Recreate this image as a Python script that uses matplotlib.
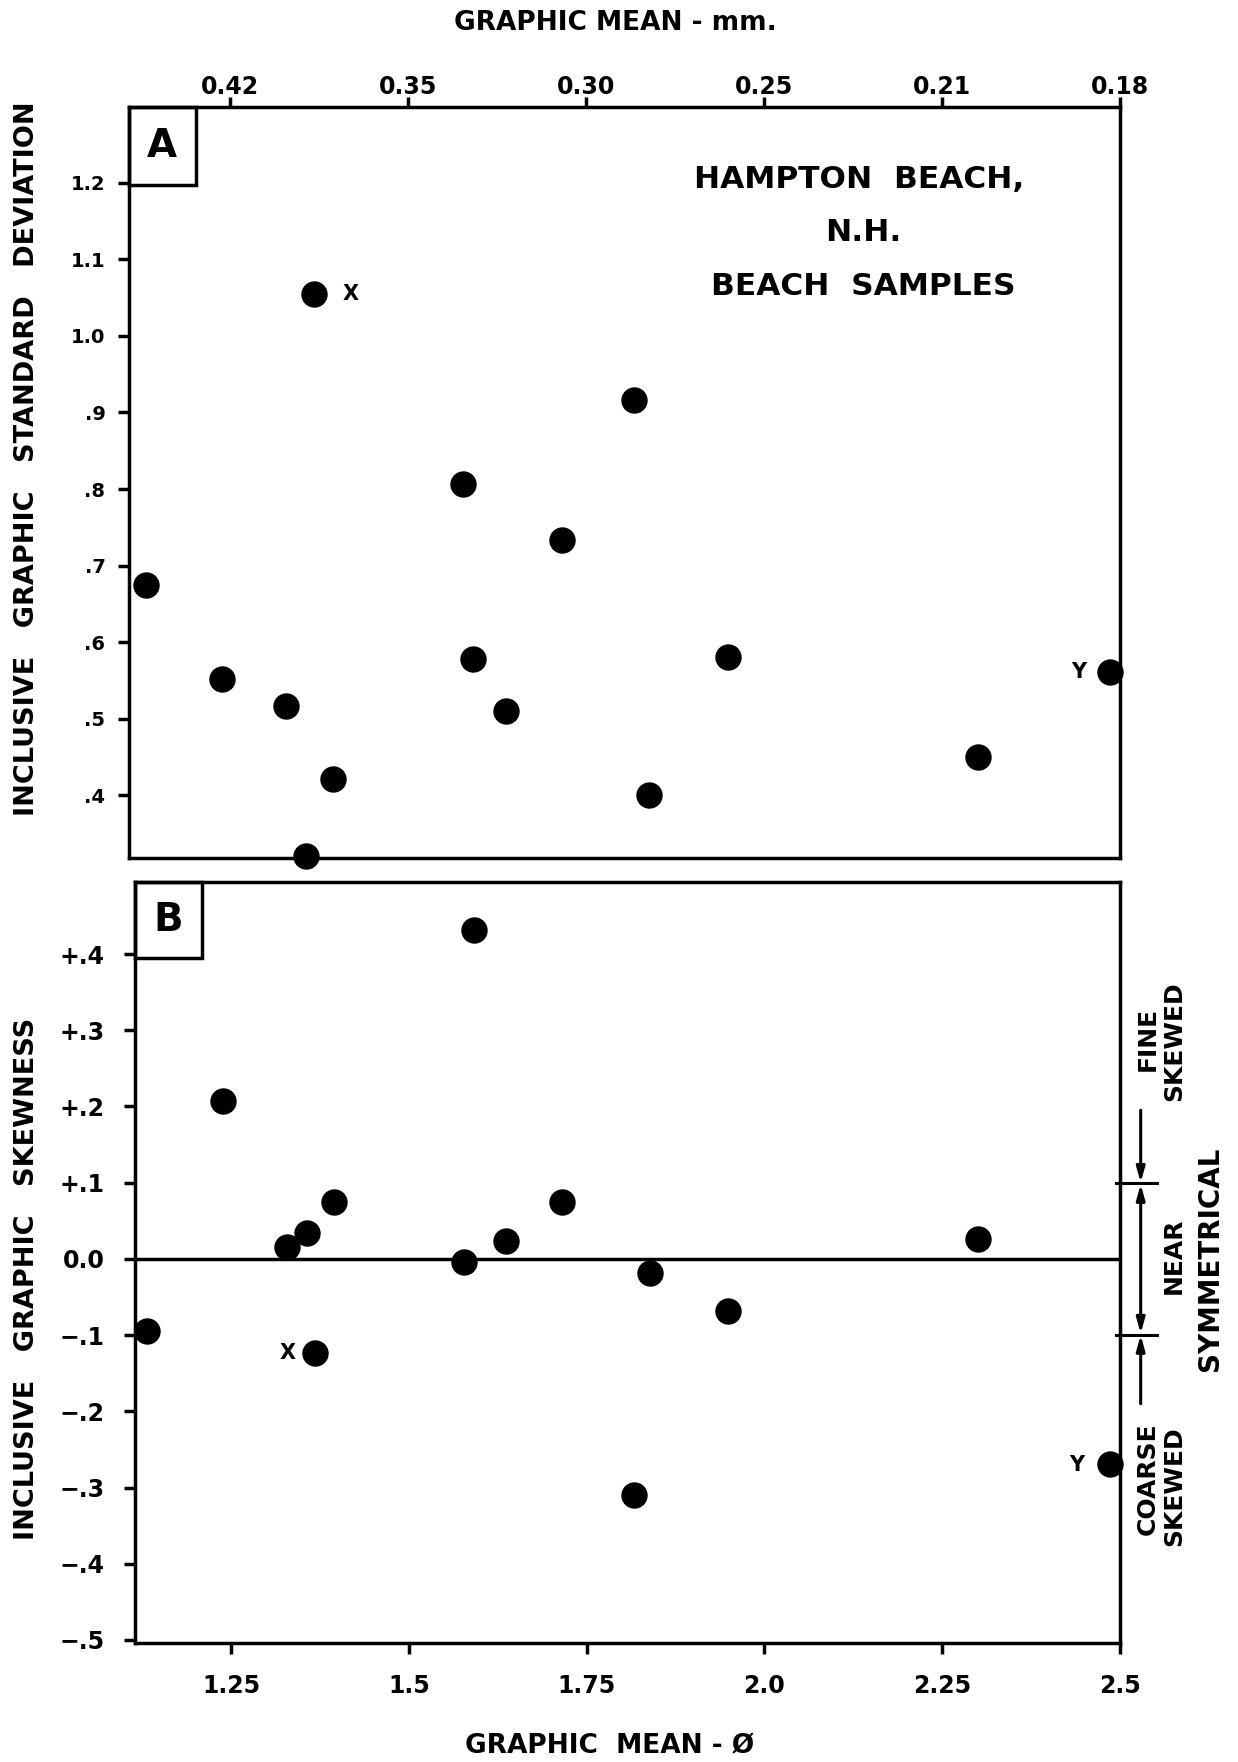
import matplotlib
matplotlib.use("Agg")
import matplotlib.pyplot as plt
from matplotlib.patches import Rectangle

plt.rcParams['font.family'] = ['DejaVu Sans']
plt.rcParams['font.weight'] = 'bold'

# ---- data ----
phi_mean = [1.132, 1.239, 1.329, 1.357, 1.368, 1.395, 1.577, 1.591, 1.637,
            1.716, 1.817, 1.839, 1.949, 2.301, 2.486]
sorting = [0.674, 0.552, 0.517, 0.320, 1.055, 0.421, 0.806, 0.578, 0.510,
           0.733, 0.916, 0.400, 0.581, 0.450, 0.561]
skewness = [-0.094, 0.207, 0.016, 0.034, -0.124, 0.074, -0.004, 0.432, 0.024,
            0.075, -0.310, -0.018, -0.068, 0.026, -0.269]

phi_ticks = [1.25, 1.5, 1.75, 2.0, 2.25, 2.5]
phi_labels = ["1.25", "1.5", "1.75", "2.0", "2.25", "2.5"]
mm_labels = ["0.42", "0.35", "0.30", "0.25", "0.21", "0.18"]
sd_ticks = [0.4, 0.5, 0.6, 0.7, 0.8, 0.9, 1.0, 1.1, 1.2]
sd_labels = [".4", ".5", ".6", ".7", ".8", ".9", "1.0", "1.1", "1.2"]
sk_ticks = [0.4, 0.3, 0.2, 0.1, 0.0, -0.1, -0.2, -0.3, -0.4, -0.5]
sk_labels = ["+.4", "+.3", "+.2", "+.1", "0.0", "\u2212.1", "\u2212.2", "\u2212.3", "\u2212.4", "\u2212.5"]

W, H = 1238, 1762
fig = plt.figure(figsize=(W / 100, H / 100), dpi=100)

LW = 2.5

def style(ax):
    for s in ax.spines.values():
        s.set_linewidth(LW)
    ax.tick_params(width=LW, length=8, direction='out')

# ---- Panel A ----
A_l, A_r, A_t, A_b = 129, 1120, 107, 858
axA = fig.add_axes([A_l / W, 1 - A_b / H, (A_r - A_l) / W, (A_b - A_t) / H])
style(axA)
axA.plot(phi_mean, sorting, 'o', color='black', markersize=18, clip_on=False, zorder=5)
axA.set_xlim(1.108, 2.5)
axA.set_ylim(0.318, 1.299)
axA.xaxis.tick_top()
axA.set_xticks(phi_ticks)
axA.set_xticklabels(mm_labels, fontsize=17, fontweight='bold')
axA.tick_params(axis='x', pad=-1.5, length=7)
axA.set_yticks(sd_ticks)
axA.set_yticklabels(sd_labels, fontsize=14, fontweight='bold')
axA.tick_params(axis='y', pad=9)
wA, hA = A_r - A_l, A_b - A_t
axA.add_patch(Rectangle((0, 1 - 78 / hA), 67 / wA, 78 / hA, transform=axA.transAxes,
                        fill=False, lw=LW, edgecolor='black', clip_on=False))
axA.text(33 / wA, 1 - 39 / hA, "A", transform=axA.transAxes, ha='center', va='center',
         fontsize=28, fontweight='bold')
axA.text(0.737, 0.9036, "HAMPTON  BEACH,", transform=axA.transAxes, ha='center', va='center',
         fontsize=22.5, fontweight='bold')
axA.text(0.741, 0.833, "N.H.", transform=axA.transAxes, ha='center', va='center',
         fontsize=22.5, fontweight='bold')
axA.text(0.741, 0.761, "BEACH  SAMPLES", transform=axA.transAxes, ha='center', va='center',
         fontsize=22.5, fontweight='bold')
axA.text(1.419, 1.055, "X", ha='center', va='center', fontsize=15, fontweight='bold')
axA.text(2.442, 0.561, "Y", ha='center', va='center', fontsize=15, fontweight='bold')

# ---- Panel B ----
B_l, B_r, B_t, B_b = 135, 1120, 882, 1643
axB = fig.add_axes([B_l / W, 1 - B_b / H, (B_r - B_l) / W, (B_b - B_t) / H])
style(axB)
axB.axhline(0.0, color='black', lw=LW, zorder=2)
axB.plot(phi_mean, skewness, 'o', color='black', markersize=18, clip_on=False, zorder=5)
axB.set_xlim(1.115, 2.497)
axB.set_ylim(-0.504, 0.4945)
axB.set_xticks(phi_ticks)
axB.set_xticklabels(phi_labels, fontsize=17, fontweight='bold')
axB.tick_params(axis='x', pad=14)
axB.set_yticks(sk_ticks)
axB.set_yticklabels(sk_labels, fontsize=17, fontweight='bold')
axB.tick_params(axis='y', pad=14)
wB, hB = B_r - B_l, B_b - B_t
axB.add_patch(Rectangle((0, 1 - 76 / hB), 67 / wB, 76 / hB, transform=axB.transAxes,
                        fill=False, lw=LW, edgecolor='black', clip_on=False))
axB.text(33 / wB, 1 - 38 / hB, "B", transform=axB.transAxes, ha='center', va='center',
         fontsize=28, fontweight='bold')
axB.text(1.329, -0.124, "X", ha='center', va='center', fontsize=15, fontweight='bold')
axB.text(2.439, -0.270, "Y", ha='center', va='center', fontsize=15, fontweight='bold')

# right-hand skewness class annotation
tr = axB.get_yaxis_transform()
for yv in (0.1, -0.1):
    axB.plot([0.996, 1.038], [yv, yv], color='black', lw=2.2, transform=tr, clip_on=False)
ax_x = 1.021
arrow_kw = dict(color='black', lw=2.2, shrinkA=0, shrinkB=0)
axB.annotate('', xy=(ax_x, 0.1), xytext=(ax_x, 0.195), xycoords=tr, textcoords=tr,
             arrowprops=dict(arrowstyle='-|>,head_length=0.9,head_width=0.25', **arrow_kw),
             annotation_clip=False)
axB.annotate('', xy=(ax_x, -0.1), xytext=(ax_x, -0.19), xycoords=tr, textcoords=tr,
             arrowprops=dict(arrowstyle='-|>,head_length=0.9,head_width=0.25', **arrow_kw),
             annotation_clip=False)
axB.annotate('', xy=(ax_x, 0.098), xytext=(ax_x, -0.098), xycoords=tr, textcoords=tr,
             arrowprops=dict(arrowstyle='<|-|>,head_length=0.9,head_width=0.25', **arrow_kw),
             annotation_clip=False)
rot_kw = dict(transform=tr, rotation=90, ha='center', va='center', fontweight='bold')
axB.text(1.0284, 0.288, "FINE", fontsize=18, **rot_kw)
axB.text(1.0548, 0.285, "SKEWED", fontsize=18, **rot_kw)
axB.text(1.0548, 0.004, "NEAR", fontsize=18, **rot_kw)
axB.text(1.0914, 0.0, "SYMMETRICAL", fontsize=20, **rot_kw)
axB.text(1.0284, -0.288, "COARSE", fontsize=18, **rot_kw)
axB.text(1.0548, -0.298, "SKEWED", fontsize=18, **rot_kw)

# axis titles
fig.text(615 / W, 1 - 23 / H, "GRAPHIC MEAN - mm.", ha='center', va='center',
         fontsize=19, fontweight='bold')
fig.text(610 / W, 1 - 1746 / H, "GRAPHIC  MEAN - \u00d8", ha='center', va='center',
         fontsize=19, fontweight='bold')
fig.text(27 / W, 1 - 459 / H, "INCLUSIVE   GRAPHIC   STANDARD   DEVIATION", rotation=90,
         ha='center', va='center', fontsize=19.5, fontweight='bold')
fig.text(27 / W, 1 - 1279 / H, "INCLUSIVE   GRAPHIC   SKEWNESS", rotation=90,
         ha='center', va='center', fontsize=19.5, fontweight='bold')

fig.savefig("out.png", dpi=100)
